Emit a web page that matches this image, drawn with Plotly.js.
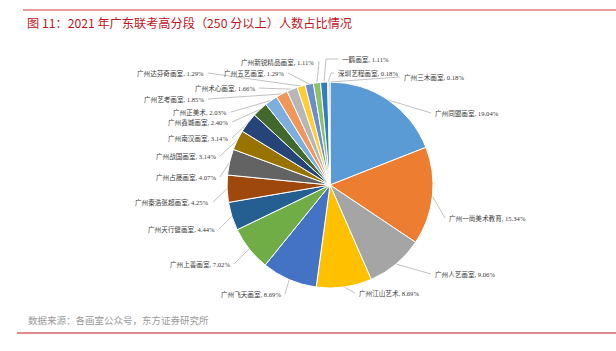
<!DOCTYPE html>
<html>
<head>
<meta charset="utf-8">
<script src="https://cdn.plot.ly/plotly-3.0.1.min.js"></script>
<style>html,body{margin:0;padding:0;background:#fff;}#chart{width:616px;height:351px;}</style>
</head>
<body>
<div id="chart"></div>
<script>
// ---- data ----
const categories = ["广州同盟画室","广州一尚美术教育","广州人艺画室","广州江山艺术","广州飞天画室","广州上善画室","广州天行健画室","广州秦浩张超画室","广州占晟画室","广州战国画室","广州南汉画室","广州鑫城画室","广州正美术","广州艺考画室","广州术心画室","广州达芬奇画室","广州五艺画室","广州新锐精品画室","一鹤画室","深圳艺程画室","广州三木画室"];
const shares = [19.04,15.34,9.06,8.69,8.69,7.02,4.44,4.25,4.07,3.14,3.14,2.40,2.03,1.85,1.66,1.29,1.29,1.11,1.11,0.18,0.18];
const titleText = "图 11：2021 年广东联考高分段（250 分以上）人数占比情况";
const sourceText = "数据来源：各画室公众号，东方证券研究所";

// ---- styles / layout positions ----
const colors = ["#5B9BD5","#ED7D31","#A5A5A5","#FFC000","#4472C4","#70AD47","#255E91","#9E480E","#636363","#997300","#264478","#43682B","#7CAFDD","#F1975A","#B7B7B7","#FFCD33","#698ED0","#8CC168","#327DC2","#D26012","#848484"];
const labelX = [433,447,433,357,283,232,217,211,218,218,230,230,229,206,257,206,286,316,340,336,402];
const labelY = [113,218,274,293,294,264,229,202,177,156,138,122,112,99,88,73,73,62,59,73,77];
const labelAnchor = ["left","left","left","left","right","right","right","right","right","right","right","right","right","right","right","right","right","right","left","left","left"];
const labelElbowX = [null,null,null,null,null,null,null,null,null,null,null,null,null,null,null,null,null,319,326,331,null];

const W = 616, H = 351;
const cx = 330, cy = 185, R = 103;

const total = shares.reduce((a,b)=>a+b,0);
let cum = 0;
const lx = [], ly = [];
const annotations = [];
shares.forEach((v,i)=>{
  const mid = (cum + v/2)/total * 2*Math.PI;
  cum += v;
  const ex = cx + R*Math.sin(mid), ey = cy - R*Math.cos(mid);
  lx.push(ex); ly.push(ey);
  if (labelElbowX[i] !== null) { lx.push(labelElbowX[i]); ly.push(labelY[i]); }
  const endX = labelAnchor[i] === "left" ? labelX[i]-2 : labelX[i]+2;
  lx.push(endX); ly.push(labelY[i]);
  lx.push(null); ly.push(null);
  annotations.push({
    xref:"x", yref:"y", x: labelX[i], y: labelY[i],
    xanchor: labelAnchor[i], yanchor:"middle", showarrow:false,
    text: categories[i] + ", " + v.toFixed(2) + "%",
    font:{family:"Liberation Serif, Noto Sans CJK SC, serif", size:6.6, color:"#3A3A3A"}
  });
});

annotations.push({
  xref:"paper", yref:"paper", x: 26/W, y: 1-320/H, xanchor:"left", yanchor:"middle",
  showarrow:false, text: sourceText,
  font:{family:"Noto Sans CJK SC, sans-serif", size:9.5, color:"#9A9A9A"}
});

const d = R;
const traces = [
  {
    type:"pie", labels: categories, values: shares, sort:false, direction:"clockwise",
    rotation:0, textinfo:"none", hoverinfo:"label+percent",
    marker:{colors: colors, line:{color:"#FFFFFF", width:1}},
    domain:{x:[(cx-d)/W,(cx+d)/W], y:[(H-cy-d)/H,(H-cy+d)/H]},
    showlegend:false
  },
  {
    type:"scatter", mode:"lines", x: lx, y: ly, xaxis:"x", yaxis:"y",
    line:{color:"#A6A6A6", width:0.7}, hoverinfo:"skip", showlegend:false
  }
];

const layout = {
  width: W, height: H,
  margin:{l:0,r:0,t:0,b:0},
  paper_bgcolor:"#FFFFFF", plot_bgcolor:"rgba(0,0,0,0)",
  xaxis:{range:[0,W], visible:false, fixedrange:true},
  yaxis:{range:[H,0], visible:false, fixedrange:true},
  title:{text: titleText, x: 27/W, xanchor:"left", y: 1-24/H, yanchor:"middle",
    font:{family:"Noto Sans CJK SC, sans-serif", size:12.2, color:"#C0161E"}},
  shapes:[
    {type:"line", xref:"paper", yref:"paper", x0:23/W, x1:1, y0:1-10/H, y1:1-10/H, line:{color:"#D23A3A", width:1}},
    {type:"line", xref:"paper", yref:"paper", x0:17/W, x1:1, y0:1-333/H, y1:1-333/H, line:{color:"#C0161E", width:1}}
  ],
  annotations: annotations,
  showlegend:false
};

Plotly.newPlot("chart", traces, layout, {displayModeBar:false, staticPlot:true});
</script>
</body>
</html>
